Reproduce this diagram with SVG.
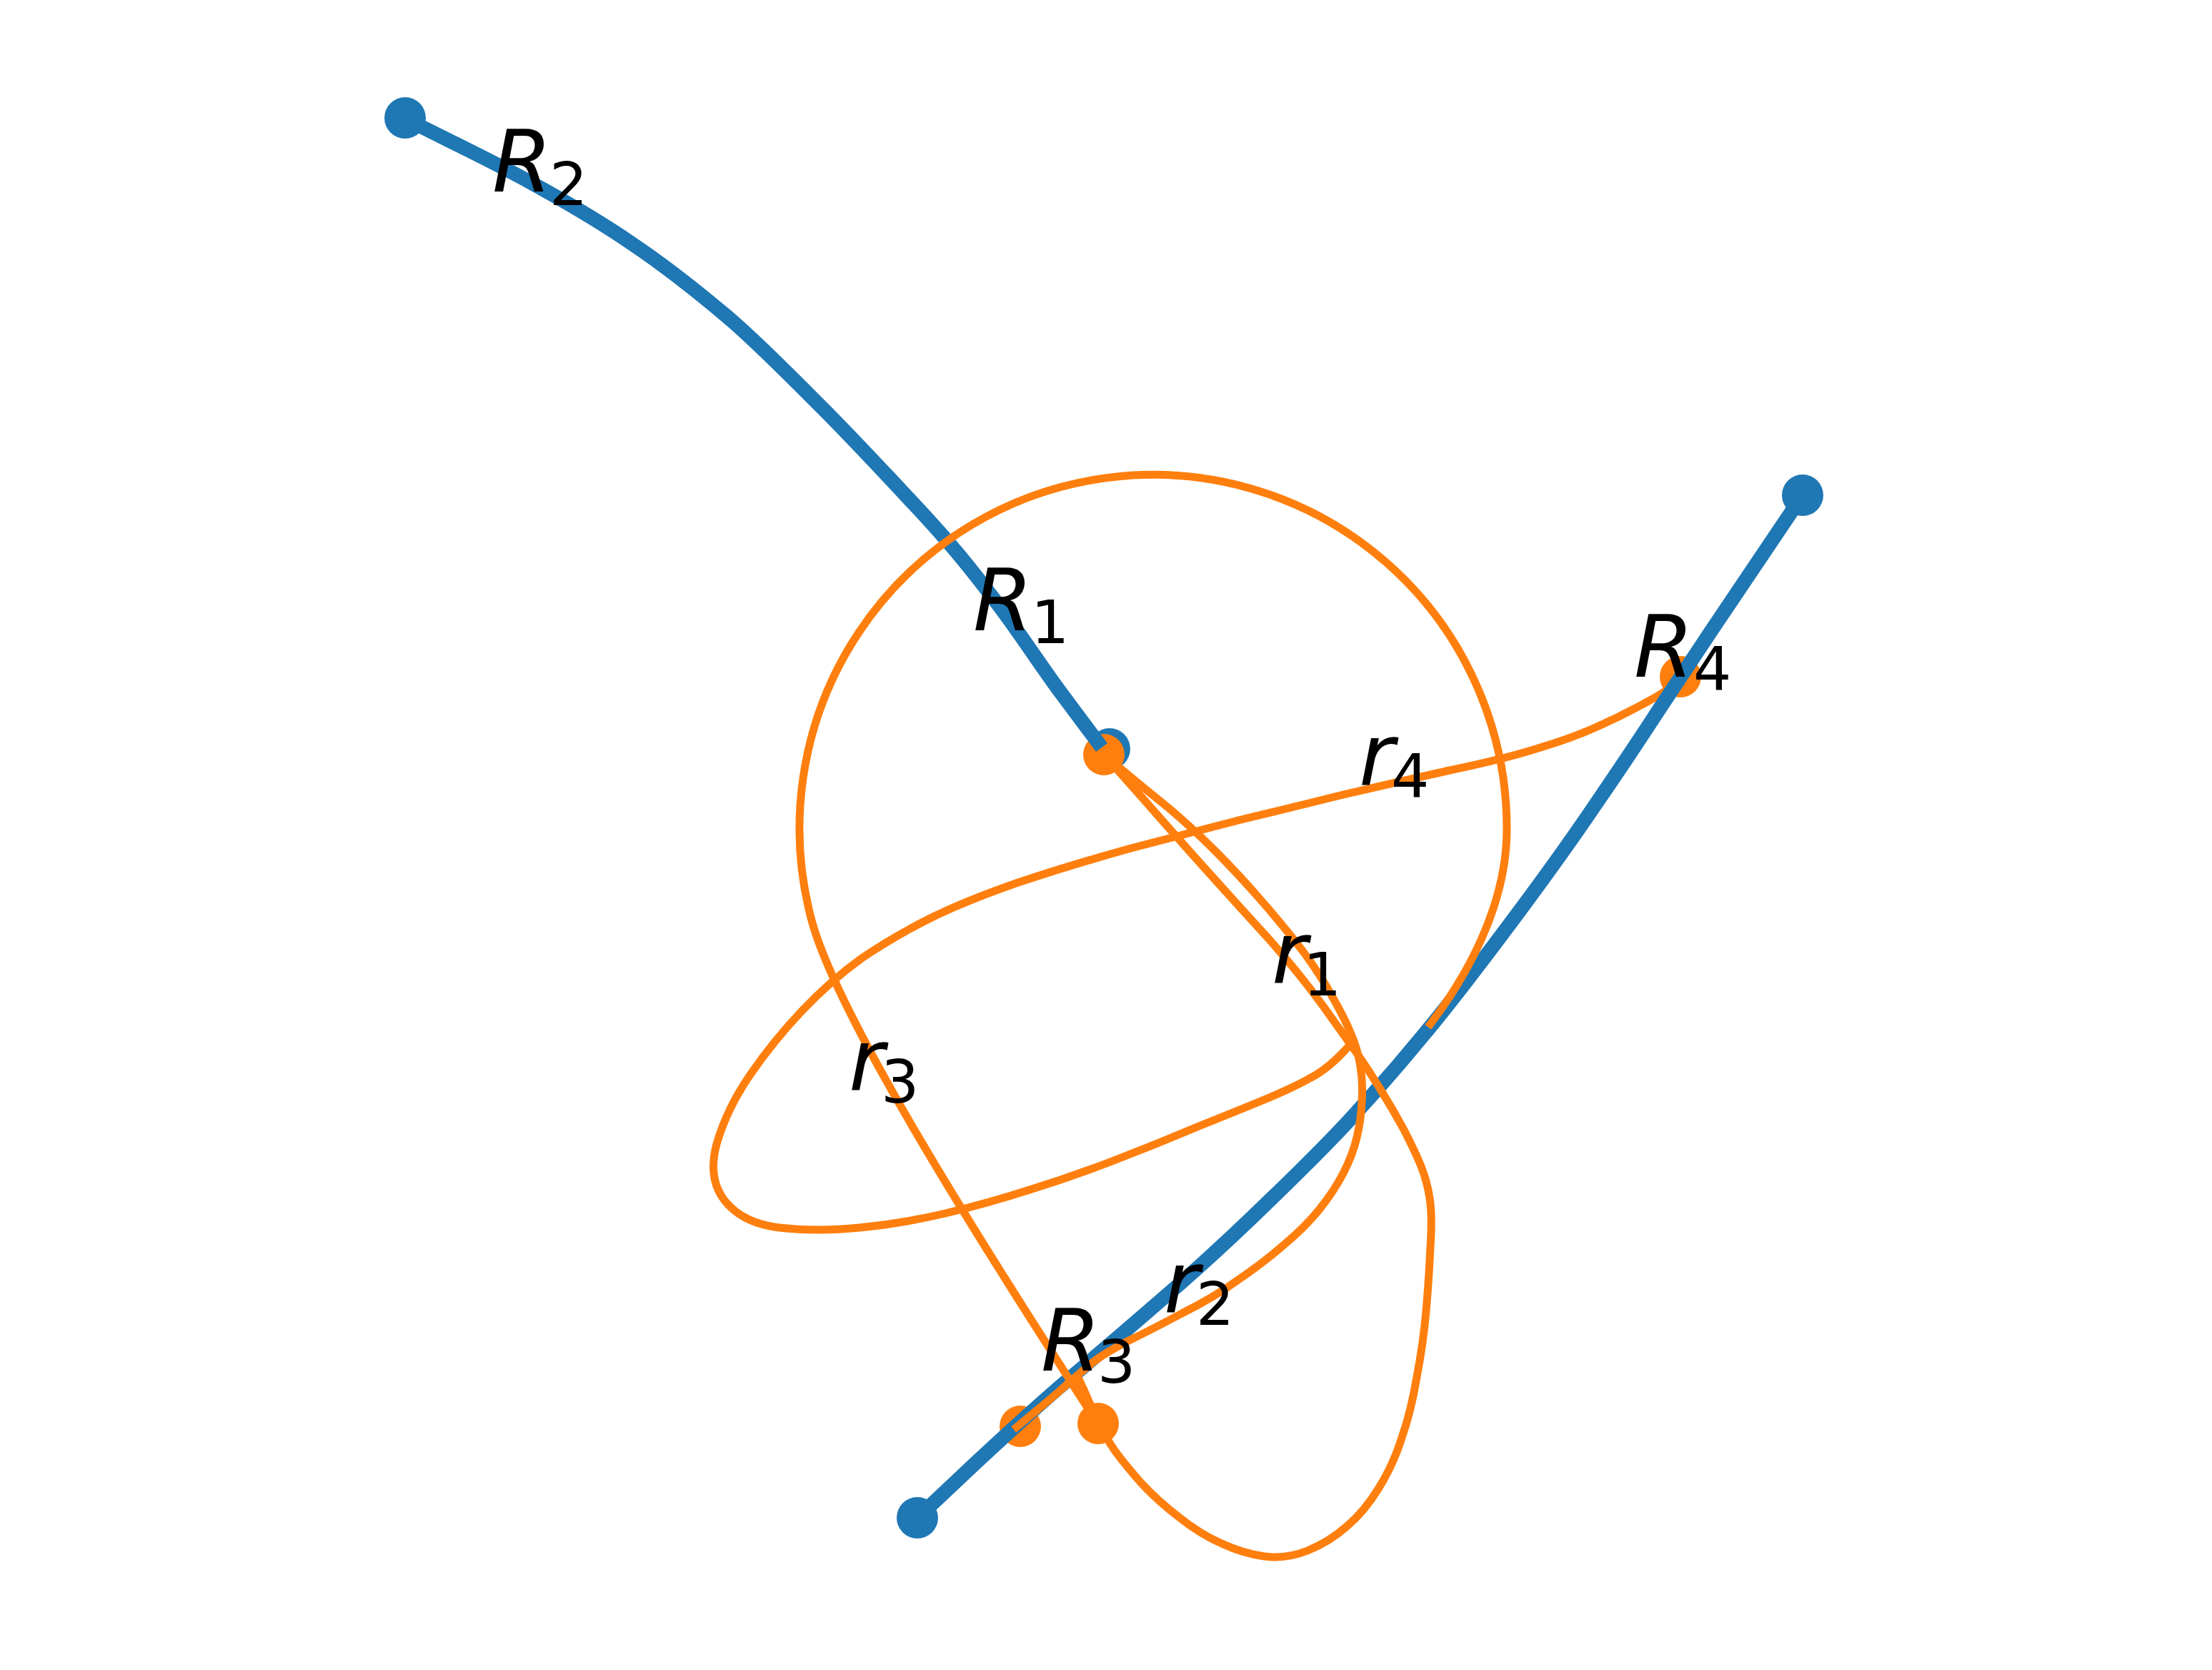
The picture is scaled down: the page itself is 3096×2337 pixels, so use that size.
<svg xmlns="http://www.w3.org/2000/svg" width="3096" height="2337" viewBox="0 0 3096 2337">
<style>
.bl{fill:none;stroke:#1f77b4;stroke-width:20;stroke-linecap:square;stroke-linejoin:round}
.or{fill:none;stroke:#ff7f0e;stroke-width:11;stroke-linecap:square;stroke-linejoin:round}
.bd{fill:#1f77b4}
.od{fill:#ff7f0e}
.lab{font-family:"DejaVu Sans","Liberation Sans",sans-serif;font-style:italic;font-size:120px;fill:#000}
.sub{font-style:normal;font-size:84px}
</style>
<rect width="3096" height="2337" fill="#fff"/>
<g id="node-R2-start"><circle class="bd" cx="567" cy="165" r="29"/></g>
<g id="node-R1-end"><circle class="bd" cx="1553" cy="1048" r="29"/></g>
<g id="node-R3-start"><circle class="bd" cx="1284" cy="2124" r="29"/></g>
<g id="node-R4-end"><circle class="bd" cx="2523" cy="693" r="29"/></g>
<g id="node-r-R1"><circle class="od" cx="1545" cy="1056" r="29"/></g>
<g id="node-r-R3a"><circle class="od" cx="1428" cy="1996" r="29"/></g>
<g id="node-r-R3b"><circle class="od" cx="1537" cy="1992" r="29"/></g>
<g id="node-r-R4"><circle class="od" cx="2352" cy="947" r="29"/></g>
<g id="connectors">
<path id="r4" class="or" d="M2352,947 L2342,957 Q2333,968 2300,985 Q2267,1003 2233,1018 Q2200,1033 2153,1047 Q2106,1062 2029,1078 Q1953,1095 1876,1113 Q1800,1132 1733,1148 Q1667,1165 1583,1187 Q1500,1210 1425,1235 Q1350,1261 1300,1286 Q1250,1311 1206,1341 Q1163,1372 1123,1414 Q1083,1456 1050,1504 Q1017,1552 1003,1601 Q990,1650 1015,1681 Q1040,1712 1091,1718 Q1143,1724 1203,1718 Q1264,1712 1323,1698 Q1382,1684 1441,1665 Q1500,1647 1559,1624 Q1619,1601 1678,1576 Q1738,1552 1774,1537 Q1810,1522 1835,1508 Q1860,1495 1887,1465"/>
<path id="R-upper" class="bl" d="M567,166 C622,194 680,221 733,250 C786,279 835,307 883,340 C931,372 975,407 1020,445 C1064,483 1110,530 1150,570 C1190,610 1229,652 1260,685 C1291,718 1312,740 1335,768 C1358,795 1375,817 1400,850 C1425,883 1460,936 1483,967 C1506,998 1518,1014 1536,1038"/>
<path id="R-lower" class="bl" d="M1284,2124 L1352,2060 Q1420,1996 1483,1941 Q1547,1887 1622,1822 Q1698,1757 1782,1675 Q1867,1593 1908,1546 Q1950,1500 1991,1450 Q2033,1400 2108,1300 Q2183,1200 2233,1126 Q2283,1053 2320,996 Q2357,940 2395,883 Q2433,826 2523,693"/>
<path id="r1" class="or" d="M1545,1056 L1594,1111 Q1643,1167 1688,1217 Q1733,1267 1775,1313 Q1817,1360 1852,1408 Q1887,1457 1902,1478 Q1917,1500 1933,1526 Q1950,1553 1965,1581 Q1980,1610 1989,1632 Q1998,1655 2001,1677 Q2005,1700 2002,1745 Q2000,1790 1996,1835 Q1992,1880 1983,1927 Q1975,1975 1962,2012 Q1950,2050 1930,2082 Q1910,2115 1885,2136 Q1860,2158 1830,2170 Q1800,2182 1770,2178 Q1740,2174 1710,2160 Q1680,2147 1650,2123 Q1620,2100 1597,2075 Q1575,2050 1561,2031 Q1548,2012 1537,1993"/>
<path id="r2" class="or" d="M1545,1056 L1575,1081 Q1605,1106 1636,1131 Q1667,1157 1700,1190 Q1733,1223 1766,1261 Q1800,1300 1825,1333 Q1850,1367 1866,1397 Q1883,1427 1891,1447 Q1900,1467 1904,1492 Q1908,1517 1906,1542 Q1905,1567 1899,1592 Q1893,1617 1880,1642 Q1867,1667 1847,1692 Q1827,1717 1797,1742 Q1767,1768 1733,1791 Q1700,1815 1656,1837 Q1613,1860 1580,1876 Q1547,1893 1530,1906 Q1513,1920 1496,1935 Q1480,1950 1423,1997"/>
<path id="r2-spur" class="or" d="M1508,1926 Q1520,1950 1537,1992"/>
<path id="r3" class="or" d="M2002,1433 C2050,1370 2109,1270 2109,1160 A495,495 0 1 0 1136,1288 C1175,1433 1402,1783 1537,1993"/>
</g>
<g id="labels" class="lab">
<text x="689" y="268">R<tspan class="sub" x="769" y="287">2</tspan></text>
<text x="1362" y="882">R<tspan class="sub" x="1443" y="900">1</tspan></text>
<text x="2287" y="947">R<tspan class="sub" x="2370" y="965">4</tspan></text>
<text x="1457" y="1918">R<tspan class="sub" x="1536" y="1935">3</tspan></text>
<text x="1902" y="1098">r<tspan class="sub" x="1947" y="1115">4</tspan></text>
<text x="1780" y="1375">r<tspan class="sub" x="1824" y="1393">1</tspan></text>
<text x="1188" y="1525">r<tspan class="sub" x="1233" y="1543">3</tspan></text>
<text x="1629" y="1836">r<tspan class="sub" x="1674" y="1854">2</tspan></text>
</g>
</svg>
